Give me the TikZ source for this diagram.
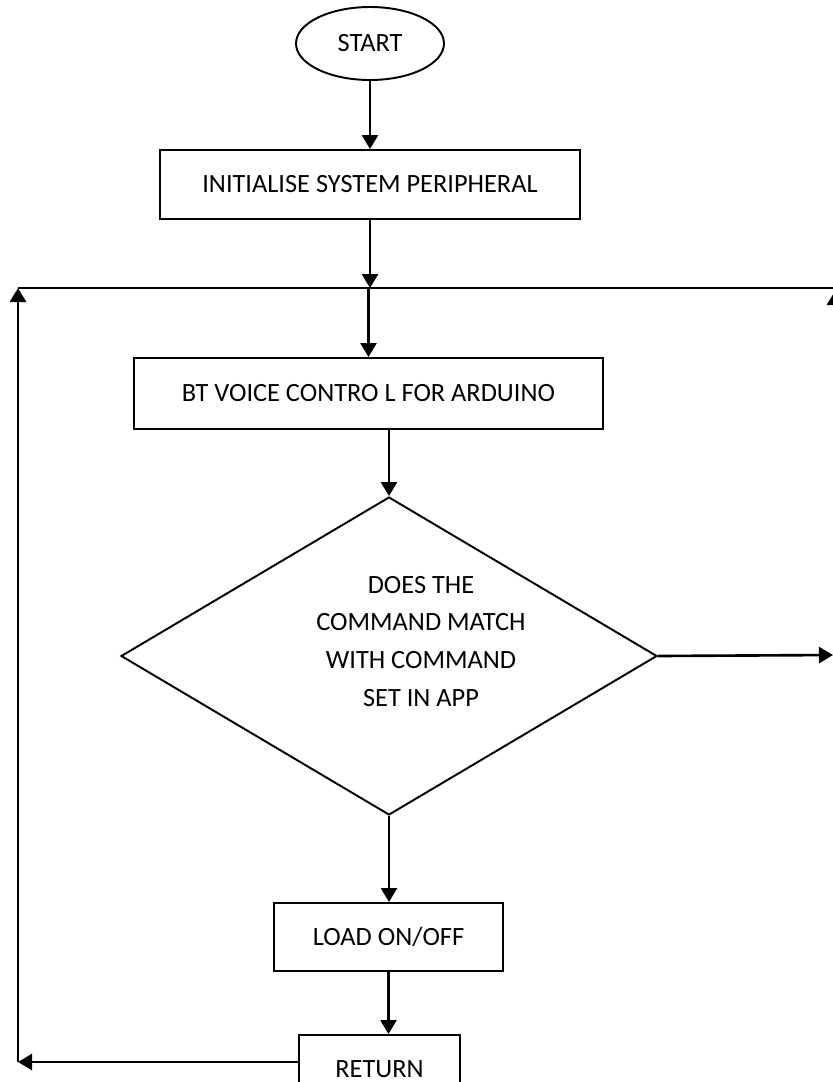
\documentclass[tikz,border=0pt]{standalone}
\usepackage{fontspec}
\setmainfont{Carlito}
\usetikzlibrary{positioning, shapes.geometric, arrows.meta}

\begin{document}
\begin{tikzpicture}[font=\fontsize{15}{21.6}\selectfont, >={Triangle[width=0.32cm, length=0.28cm]},
    startnode/.style={draw, ellipse, line width=1.1pt, minimum width=2.96cm, minimum height=1.46cm, inner sep=0pt},
    procbox/.style={draw, line width=1.1pt, minimum height=1.38cm, align=center, inner sep=0pt},
    decision/.style={draw, diamond, line width=1.1pt, minimum width=10.72cm, minimum height=6.36cm, inner sep=0pt},
    loopline/.style={line width=1.5pt},
    flow/.style={->, line width=1.5pt}]

  \clip (0,0) rectangle (16.66,-21.64);

  % --- main column ---
  \node[startnode] (start) at (7.40,-0.87) {START};
  \node[procbox, minimum width=8.4cm] (init) at (7.40,-3.69) {INITIALISE SYSTEM PERIPHERAL};
  \node[procbox, minimum width=9.38cm, minimum height=1.42cm] (bt) at (7.37,-7.87) {BT VOICE CONTRO L FOR ARDUINO};
  \node[decision] (match) at (7.78,-13.12) {};
  \node[align=center] (matchtxt) at (8.42,-12.83) {DOES THE\\COMMAND MATCH\\WITH COMMAND\\SET IN APP};
  \node[procbox, minimum width=4.58cm, minimum height=1.36cm] (load) at (7.77,-18.74) {LOAD ON/OFF};
  \node[procbox, minimum width=3.22cm, minimum height=1.36cm] (ret) at (7.59,-21.38) {RETURN};

  % --- loop lane ---
  \coordinate (loopL) at (0.36,-5.76);
  \coordinate (loopR) at (16.70,-5.76);
  \coordinate (retL) at (0.36,-21.24);
  \coordinate (exitR) at (16.66,-13.10);
  \coordinate (exitUp) at (16.70,-13.10);

  \draw[flow] (start) -- (init);
  \draw[flow] (init.south) -- (init.south |- loopL);
  \draw[flow] (bt.north |- loopL) -- (bt.north);
  \draw[flow] (bt.south -| match.north) -- (match.north);
  \draw[flow] (match.south) -- (match.south |- load.north);
  \draw[flow] (load.south) -- (load.south |- ret.north);

  \draw[loopline] (loopL) -- (loopR);
  \draw[flow] (ret.west |- retL) -- (retL);
  \draw[flow] (retL) -- (loopL);
  \draw[flow] (match.east) -- (exitR);
  \draw[flow] (exitUp) -- ([yshift=-0.06cm]loopR);
\end{tikzpicture}
\end{document}
